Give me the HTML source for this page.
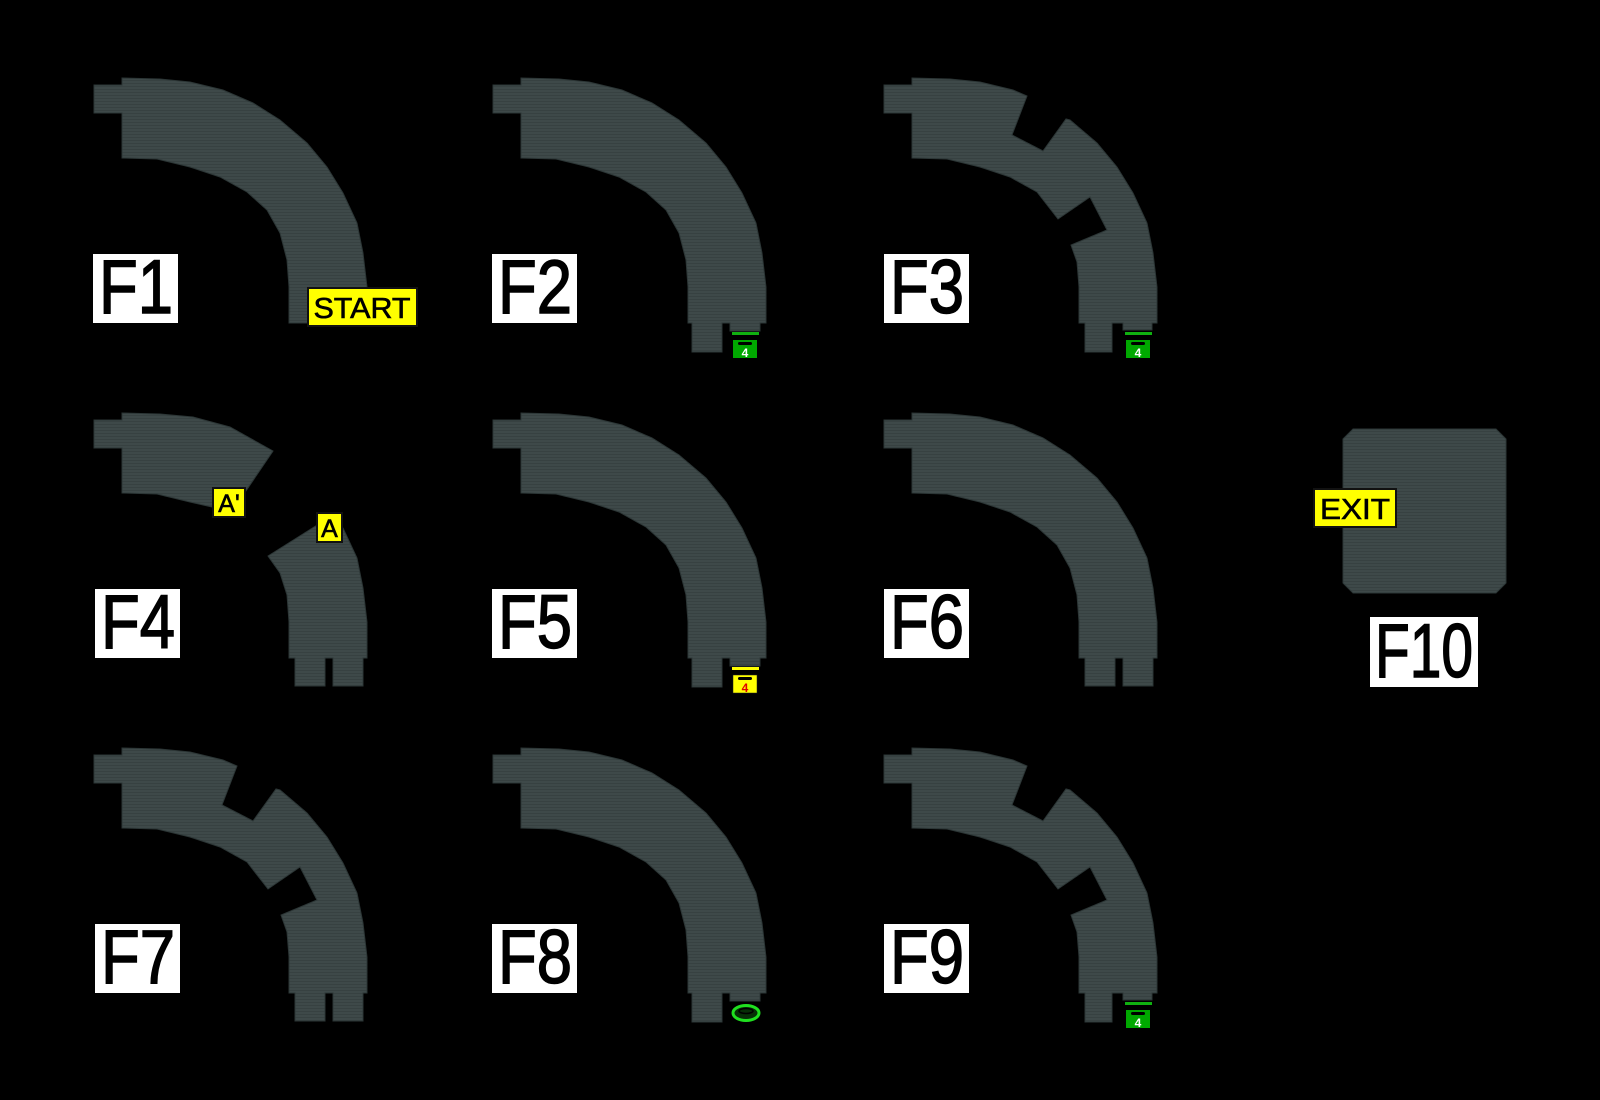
<!DOCTYPE html>
<html><head><meta charset="utf-8"><style>
html,body{margin:0;padding:0;background:#000;}
svg{display:block;}
text{font-family:"Liberation Sans",sans-serif;}
</style></head><body>
<svg width="1600" height="1100" viewBox="0 0 1600 1100" xmlns="http://www.w3.org/2000/svg">
<defs>
<pattern id="st" width="4" height="3" patternUnits="userSpaceOnUse">
<rect width="4" height="3" fill="#3e4949"/><rect y="2" width="4" height="1" fill="#374141"/>
</pattern>
<g id="plain">
<polygon fill="url(#st)" stroke="#2c3636" stroke-width="1" points="94,85 122,85 122,78 160,79 190,82 223,90 253,103 280,120 307,143 327,167 343,193 357,223 363,253 367,287 367,323 289,323 289,287 287,260 280,233 267,210 247,192 220,177 190,167 157,159 122,158 122,113 94,113"/>
</g>
<g id="two">
<polygon fill="url(#st)" stroke="#2c3636" stroke-width="1" points="94,85 122,85 122,78 160,79 190,82 223,90 253,103 280,120 307,143 327,167 343,193 357,223 363,253 367,287 367,323 363,323 363,351 333,351 333,323 325,323 325,351 295,351 295,323 289,323 289,287 287,260 280,233 267,210 247,192 220,177 190,167 157,159 122,158 122,113 94,113"/>
</g>
<g id="stub">
<polygon fill="url(#st)" stroke="#2c3636" stroke-width="1" points="94,85 122,85 122,78 160,79 190,82 223,90 253,103 280,120 307,143 327,167 343,193 357,223 363,253 367,287 367,323 361,323 361,331 331,331 331,323 323,323 323,352 293,352 293,323 289,323 289,287 287,260 280,233 267,210 247,192 220,177 190,167 157,159 122,158 122,113 94,113"/>
</g>
<g id="notch">
<polygon fill="url(#st)" stroke="#2c3636" stroke-width="1" points="94,85 122,85 122,78 160,79 190,82 223,90 237,96 222,135 253,151 276,119 280,120 307,143 327,167 343,193 357,223 363,253 367,287 367,323 362,323 362,330 333,330 333,323 322,323 322,352 295,352 295,323 289,323 289,287 287,262 281,245 317,230 300,197 268,219 247,192 220,177 190,167 157,159 122,158 122,113 94,113"/>
</g>
<g id="notch2">
<polygon fill="url(#st)" stroke="#2c3636" stroke-width="1" points="94,85 122,85 122,78 160,79 190,82 223,90 237,96 222,135 253,151 276,119 280,120 307,143 327,167 343,193 357,223 363,253 367,287 367,323 363,323 363,351 333,351 333,323 325,323 325,351 295,351 295,323 289,323 289,287 287,262 281,245 317,230 300,197 268,219 247,192 220,177 190,167 157,159 122,158 122,113 94,113"/>
</g>
<g id="gicon">
<rect x="335" y="332" width="27" height="3" fill="#10b010"/>
<rect x="336" y="340" width="24" height="18" fill="#00a800"/>
<rect x="341" y="342" width="14" height="3" rx="1.5" fill="#000"/>
<text x="348" y="357" font-size="12" font-weight="bold" fill="#fff" text-anchor="middle">4</text>
</g>
</defs>

<use href="#plain"/>
<use href="#stub" transform="translate(399,0)"/>
<use href="#gicon" transform="translate(397,0)"/>
<use href="#notch" transform="translate(790,0)"/>
<use href="#gicon" transform="translate(790,0)"/>

<g transform="translate(0,335)">
<polygon fill="url(#st)" stroke="#2c3636" points="94,85 122,85 122,78 160,79 193,82 230,92 273,116 233,175 212,172 190,167 157,159 122,158 122,113 94,113"/>
<polygon fill="url(#st)" stroke="#2c3636" points="268,221 322,187 343,193 357,223 363,253 367,287 367,323 363,323 363,351 333,351 333,323 325,323 325,351 295,351 295,323 289,323 289,287 287,260 280,238"/>
</g>
<use href="#stub" transform="translate(399,335)"/>
<g transform="translate(397,335)">
<rect x="335" y="332" width="27" height="3" fill="#ffff00"/>
<rect x="336" y="340" width="24" height="18" fill="#ffff00" stroke="#222" stroke-width="0.5"/>
<rect x="341" y="342" width="14" height="3" rx="1.5" fill="#000"/>
<text x="348" y="357" font-size="12" font-weight="bold" fill="#e00000" text-anchor="middle">4</text>
</g>
<use href="#two" transform="translate(790,335)"/>

<use href="#notch2" transform="translate(0,670)"/>
<use href="#stub" transform="translate(399,670)"/>
<g transform="translate(397,670)">
<ellipse cx="349" cy="343" rx="13" ry="7.5" fill="#063006" stroke="#20e020" stroke-width="3"/>
<ellipse cx="349" cy="341" rx="7" ry="2.5" fill="none" stroke="#000" stroke-width="1.5"/>
</g>
<use href="#notch" transform="translate(790,670)"/>
<use href="#gicon" transform="translate(790,670)"/>

<polygon fill="url(#st)" stroke="#2c3636" points="1353,429 1496,429 1506,439 1506,583 1496,593 1353,593 1343,583 1343,439"/>

<rect x="308" y="288" width="109" height="38" fill="#ffff00" stroke="#111" stroke-width="2"/>
<text x="362" y="318" font-size="29" text-anchor="middle" fill="#000" stroke="#000" stroke-width="0.6" textLength="97" lengthAdjust="spacingAndGlyphs">START</text>
<rect x="213" y="488" width="32" height="29" fill="#ffff00" stroke="#111" stroke-width="2"/>
<text x="229" y="512" font-size="25" text-anchor="middle" fill="#000" stroke="#000" stroke-width="0.6">A'</text>
<rect x="317" y="513" width="25" height="29" fill="#ffff00" stroke="#111" stroke-width="2"/>
<text x="329.5" y="537" font-size="25" text-anchor="middle" fill="#000" stroke="#000" stroke-width="0.6">A</text>
<rect x="1314" y="489" width="82" height="38" fill="#ffff00" stroke="#111" stroke-width="2"/>
<text x="1355" y="519" font-size="29" text-anchor="middle" fill="#000" stroke="#000" stroke-width="0.6" textLength="70" lengthAdjust="spacingAndGlyphs">EXIT</text>

<g font-size="76" fill="#000" stroke="#000" stroke-width="1.5">
<rect x="93" y="254" width="85" height="69" fill="#fff" stroke="none"/>
<text x="99" y="313" textLength="74" lengthAdjust="spacingAndGlyphs">F1</text>
<rect x="492" y="254" width="85" height="69" fill="#fff" stroke="none"/>
<text x="498" y="313" textLength="74" lengthAdjust="spacingAndGlyphs">F2</text>
<rect x="884" y="254" width="85" height="69" fill="#fff" stroke="none"/>
<text x="890" y="313" textLength="74" lengthAdjust="spacingAndGlyphs">F3</text>
<rect x="95" y="589" width="85" height="69" fill="#fff" stroke="none"/>
<text x="101" y="648" textLength="74" lengthAdjust="spacingAndGlyphs">F4</text>
<rect x="492" y="589" width="85" height="69" fill="#fff" stroke="none"/>
<text x="498" y="648" textLength="74" lengthAdjust="spacingAndGlyphs">F5</text>
<rect x="884" y="589" width="85" height="69" fill="#fff" stroke="none"/>
<text x="890" y="648" textLength="74" lengthAdjust="spacingAndGlyphs">F6</text>
<rect x="95" y="924" width="85" height="69" fill="#fff" stroke="none"/>
<text x="101" y="983" textLength="74" lengthAdjust="spacingAndGlyphs">F7</text>
<rect x="492" y="924" width="85" height="69" fill="#fff" stroke="none"/>
<text x="498" y="983" textLength="74" lengthAdjust="spacingAndGlyphs">F8</text>
<rect x="884" y="924" width="85" height="69" fill="#fff" stroke="none"/>
<text x="890" y="983" textLength="74" lengthAdjust="spacingAndGlyphs">F9</text>
<rect x="1370" y="617" width="108" height="70" fill="#fff" stroke="none"/>
<text x="1375" y="677" textLength="98" lengthAdjust="spacingAndGlyphs">F10</text>
</g>
</svg>
</body></html>
